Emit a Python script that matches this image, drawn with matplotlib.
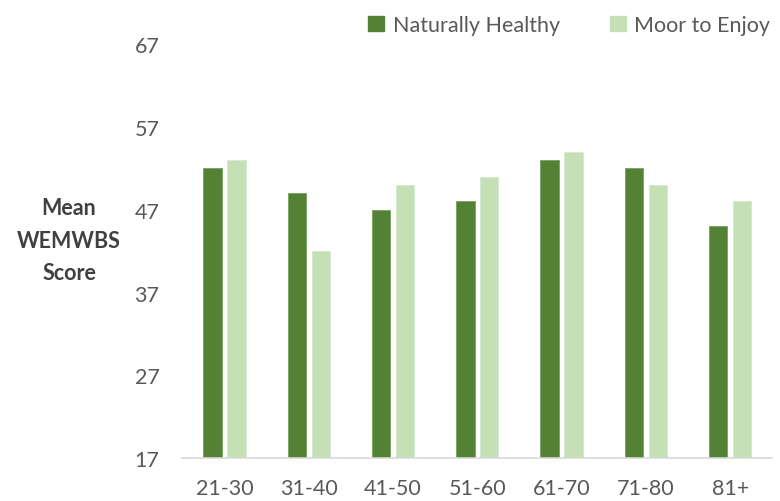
import matplotlib
matplotlib.use("Agg")
import matplotlib.pyplot as plt
import numpy as np
from matplotlib.patches import Patch

categories = ["21-30", "31-40", "41-50", "51-60", "61-70", "71-80", "81+"]
naturally_healthy = [52, 49, 47, 48, 53, 52, 45]
moor_to_enjoy = [53, 42, 50, 51, 54, 50, 48]
yticks = [17, 27, 37, 47, 57, 67]

plt.rcParams['font.family'] = ['Lato', 'DejaVu Sans']

c_nh = "#548235"
c_me = "#C5E0B4"
txt = "#595959"

fig = plt.figure(figsize=(7.8, 5.02), dpi=100)
ax = fig.add_axes([182.3/780, 1-459.3/502, (772.3-182.3)/780, (459.3-45)/502])

x = np.arange(len(categories))
w = 0.218
off = 0.142
ax.bar(x - off, np.array(naturally_healthy) - 17, w, bottom=17, color=c_nh,
       edgecolor="#7aa05e", linewidth=0.6, label="Naturally Healthy")
ax.bar(x + off, np.array(moor_to_enjoy) - 17, w, bottom=17, color=c_me,
       edgecolor="#d6ead0", linewidth=0.6, label="Moor to Enjoy")

ax.set_xlim(-0.5, len(categories) - 0.5)
ax.set_ylim(17, 67)
ax.set_yticks(yticks)
ax.set_xticks(x)
ax.set_xticklabels(categories)
for s in ["top", "right", "left"]:
    ax.spines[s].set_visible(False)
ax.spines["bottom"].set_color("#D9D9D9")
ax.spines["bottom"].set_linewidth(1.2)
ax.tick_params(axis="both", length=0, colors=txt, labelsize=15.5)
ax.tick_params(axis="y", pad=16.5)
ax.tick_params(axis="x", pad=14.5)

fig.text(69/780, 1-241/502, "Mean\nWEMWBS\nScore", ha="center", va="center",
         fontsize=15.5, fontweight="bold", color="#404040", linespacing=1.65)

handles = [Patch(facecolor=c_nh, edgecolor=c_nh), Patch(facecolor=c_me, edgecolor=c_me)]
fig.legend(handles, ["Naturally Healthy", "Moor to Enjoy"], loc="center right",
           bbox_to_anchor=(1.0, 1-26/502), ncol=2, frameon=False, fontsize=15.5,
           handlelength=0.75, handleheight=0.75, handletextpad=0.4,
           columnspacing=2.3, labelcolor=txt, borderaxespad=0.05)

fig.savefig("out.png", dpi=100)
